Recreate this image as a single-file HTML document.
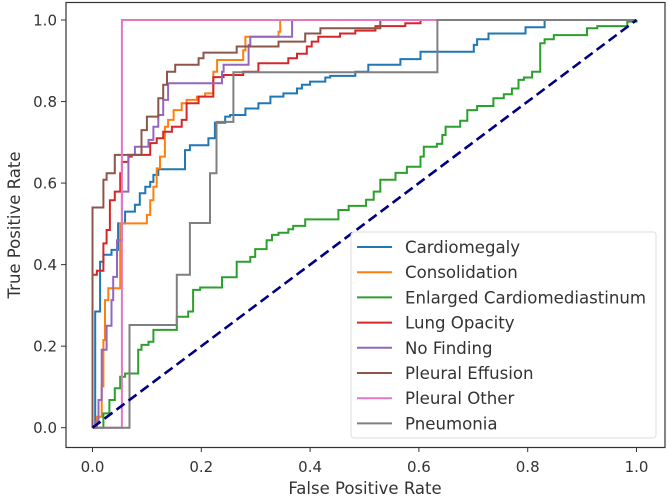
<!DOCTYPE html>
<html><head><meta charset="utf-8">
<style>
html,body{margin:0;padding:0;background:#fff;}
svg{display:block;font-family:"DejaVu Sans","Liberation Sans",sans-serif;}
</style></head>
<body>
<svg id="chart" width="668" height="499" viewBox="0 0 668 499" xmlns="http://www.w3.org/2000/svg">
<rect x="0" y="0" width="668" height="499" fill="#fff"/>
<g id="series"></g>
<g id="axes"></g>
<g id="legend"></g>
</svg>
<script>
const seriesNames = ["Cardiomegaly","Consolidation","Enlarged Cardiomediastinum","Lung Opacity","No Finding","Pleural Effusion","Pleural Other","Pneumonia"];
const seriesColors = ["#1f77b4","#ff7f0e","#2ca02c","#d62728","#9467bd","#8c564b","#e377c2","#7f7f7f"];
const cardioFpr = [0,.005,.014,.020,.035,.047,.060,.078,.087,.097,.106,.112,.121,.170,.179,.213,.225,.244,.253,.281,.305,.327,.351,.376,.385,.400,.428,.437,.483,.507,.566,.603,.701,.707,.728,.796,.831,1];
const cardioTpr = [0,.285,.407,.424,.436,.501,.530,.547,.575,.591,.603,.620,.634,.681,.693,.710,.748,.763,.767,.783,.796,.812,.820,.832,.841,.849,.859,.863,.873,.890,.904,.922,.939,.953,.967,.982,1,1];
const consolFpr = [0,.008,.017,.020,.023,.029,.051,.100,.106,.112,.118,.124,.133,.139,.149,.164,.173,.192,.207,.222,.229,.277,.281,.342,.345,1];
const consolTpr = [0,.027,.101,.215,.313,.342,.501,.522,.558,.591,.636,.665,.738,.755,.779,.796,.804,.812,.820,.873,.902,.926,.959,.971,1,1];
const enlargedFpr = [0,.020,.031,.041,.051,.060,.084,.090,.103,.112,.155,.176,.185,.198,.238,.265,.290,.299,.320,.330,.342,.360,.369,.391,.452,.471,.503,.517,.529,.557,.578,.603,.609,.633,.643,.649,.676,.689,.707,.737,.756,.771,.783,.793,.808,.823,.831,.848,.909,.928,.983,1];
const enlargedTpr = [0,.035,.068,.097,.125,.133,.191,.203,.211,.240,.272,.285,.338,.344,.369,.407,.419,.438,.460,.473,.478,.487,.495,.511,.534,.544,.559,.579,.608,.625,.640,.665,.689,.696,.718,.738,.753,.779,.789,.808,.818,.832,.853,.859,.873,.943,.953,.963,.980,.985,.996,1];
const lungFpr = [0,0,.008,.020,.026,.032,.041,.051,.054,.066,.072,.106,.118,.130,.146,.164,.173,.195,.222,.241,.277,.305,.360,.376,.394,.403,.415,.455,.483,.520,.575,.603,1];
const lungTpr = [0,.375,.385,.452,.485,.558,.579,.624,.652,.665,.669,.698,.710,.726,.738,.755,.796,.812,.860,.865,.873,.894,.906,.917,.935,.947,.959,.967,.974,.985,.992,1,1];
const noFindFpr = [0,.005,.011,.017,.026,.035,.038,.045,.054,.066,.078,.103,.112,.121,.130,.139,.238,.241,.287,.290,.367,1];
const noFindTpr = [0,.015,.068,.191,.250,.313,.370,.460,.579,.669,.689,.706,.738,.767,.804,.845,.873,.890,.939,.959,1,1];
const effusionFpr = [0,0,.020,.026,.041,.090,.100,.121,.130,.137,.152,.195,.204,.265,.342,.391,.419,.529,1];
const effusionTpr = [0,.54,.608,.624,.669,.730,.763,.808,.841,.873,.890,.906,.920,.935,.947,.967,.980,1,1];
const otherFpr = [0,.054,1];
const otherTpr = [0,1,1];
const pneumoFpr = [0,.068,.155,.179,.216,.228,.259,.634,1];
const pneumoTpr = [0,.252,.375,.502,.624,.75,.872,1,1];
const chanceFpr = [0,1];
const chanceTpr = [0,1];
const xTicks = [0,0.2,0.4,0.6,0.8,1.0];
const xTickLabels = ["0.0","0.2","0.4","0.6","0.8","1.0"];
const yTicks = [0,0.2,0.4,0.6,0.8,1.0];
const yTickLabels = ["0.0","0.2","0.4","0.6","0.8","1.0"];

const NS="http://www.w3.org/2000/svg";
const X0=92.5,X1=636.5,Y0=427.7,Y1=20;
function sx(v){return X0+v*(X1-X0);}
function sy(v){return Y0-v*(Y0-Y1);}
function mk(tag,attrs,parent){const e=document.createElementNS(NS,tag);for(const k in attrs)e.setAttribute(k,attrs[k]);parent.appendChild(e);return e;}

const gS=document.getElementById('series');
const allF=[cardioFpr,consolFpr,enlargedFpr,lungFpr,noFindFpr,effusionFpr,otherFpr,pneumoFpr];
const allT=[cardioTpr,consolTpr,enlargedTpr,lungTpr,noFindTpr,effusionTpr,otherTpr,pneumoTpr];
const slugs=["cardiomegaly","consolidation","enlarged-cardiomediastinum","lung-opacity","no-finding","pleural-effusion","pleural-other","pneumonia"];
for(let i=0;i<allF.length;i++){
  const f=allF[i],t=allT[i];
  let d="M"+sx(f[0]).toFixed(1)+","+sy(t[0]).toFixed(1);
  for(let j=1;j<f.length;j++){
    d+=" L"+sx(f[j]).toFixed(1)+","+sy(t[j-1]).toFixed(1)+" L"+sx(f[j]).toFixed(1)+","+sy(t[j]).toFixed(1);
  }
  const p=mk('path',{d:d,fill:'none',stroke:seriesColors[i],'stroke-width':2,'stroke-linejoin':'miter'},gS);
  
  
}
const diag=mk('line',{x1:sx(chanceFpr[0]),y1:sy(chanceTpr[0]),x2:sx(chanceFpr[1]),y2:sy(chanceTpr[1]),stroke:'#000080','stroke-width':2.6,'stroke-dasharray':'10,5'},gS);



const gA=document.getElementById('axes');
const frame=mk('rect',{x:66,y:2.5,width:599,height:445,fill:'none',stroke:'#333','stroke-width':1.2},gA);


for(let i=0;i<xTicks.length;i++){
  const x=sx(xTicks[i]);
  const tk=mk('line',{x1:x,y1:447.5,x2:x,y2:452,stroke:'#333','stroke-width':1},gA);
  
  
  const tl=mk('text',{x:x,y:472,'text-anchor':'middle','font-size':15,fill:'#333'},gA);
  tl.textContent=xTickLabels[i];
  
  
}
for(let i=0;i<yTicks.length;i++){
  const y=sy(yTicks[i]);
  const tk=mk('line',{x1:61,y1:y,x2:66,y2:y,stroke:'#333','stroke-width':1},gA);
  
  
  const tl=mk('text',{x:57,y:y+5.5,'text-anchor':'end','font-size':15,fill:'#333'},gA);
  tl.textContent=yTickLabels[i];
  
  
}
const xt=mk('text',{x:365,y:494,'text-anchor':'middle','font-size':16.5,fill:'#333'},gA);
xt.textContent="False Positive Rate";


const yt=mk('text',{x:0,y:0,'text-anchor':'middle','font-size':16.5,fill:'#333',transform:'translate(20,225) rotate(-90)'},gA);
yt.textContent="True Positive Rate";



const gL=document.getElementById('legend');
const lb=mk('rect',{x:351,y:232,width:305,height:206,rx:3,fill:'#fff','fill-opacity':0.85,stroke:'#ddd','stroke-width':1},gL);


for(let i=0;i<seriesNames.length;i++){
  const y=247+i*25.2;
  const g=mk('g',{},gL);
  
  
  mk('line',{x1:357,y1:y,x2:392,y2:y,stroke:seriesColors[i],'stroke-width':2},g);
  const t=mk('text',{x:405,y:y+6,'font-size':16.6,fill:'#333'},g);
  t.textContent=seriesNames[i];
}
</script>
</body></html>
